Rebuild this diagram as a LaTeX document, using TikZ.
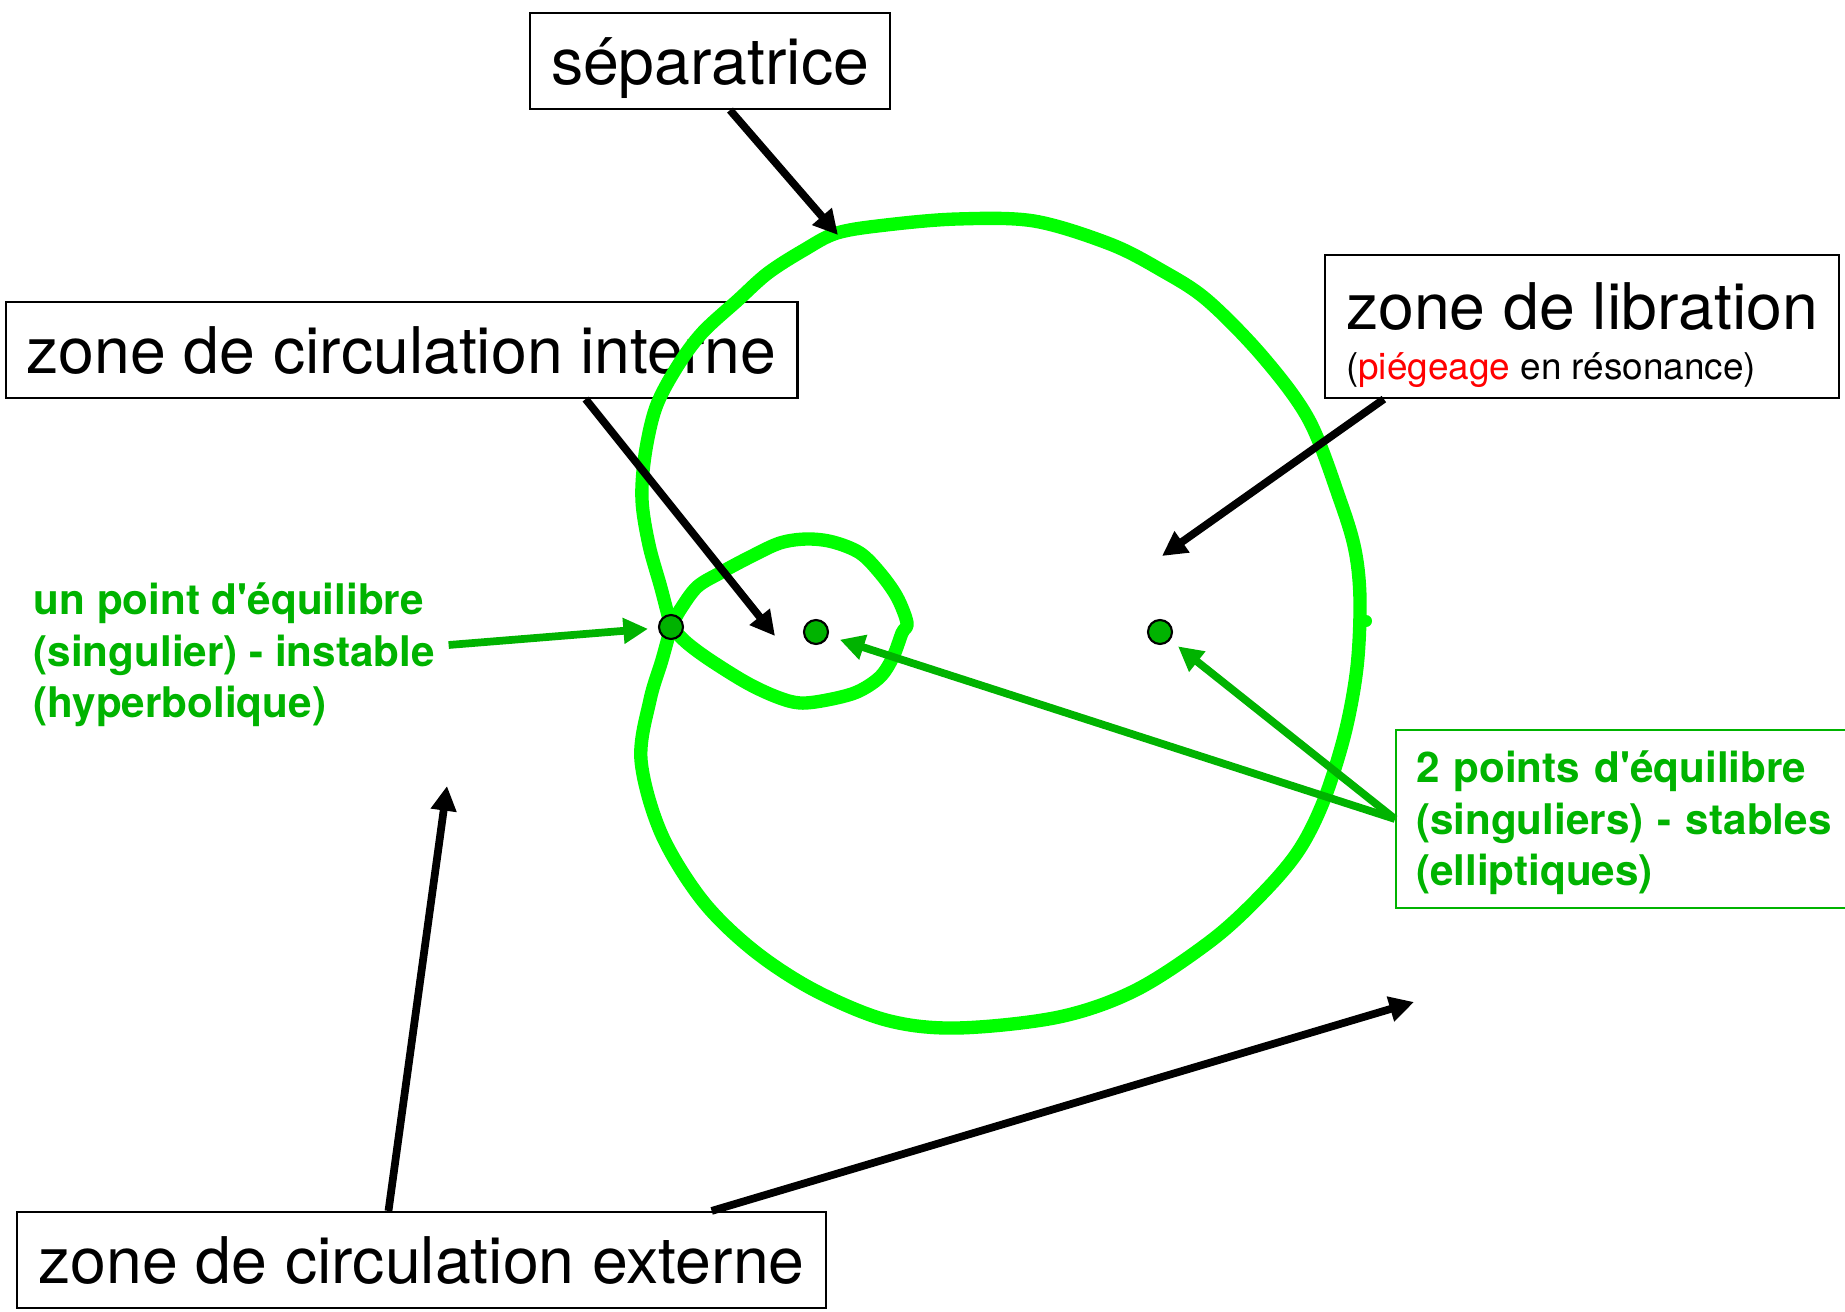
\documentclass[tikz,border=0pt]{standalone}
\usepackage{fontspec}
\setmainfont{TeX Gyre Heros}
\usetikzlibrary{arrows.meta,calc}
\definecolor{sepgreen}{HTML}{00FF00}
\definecolor{ptgreen}{HTML}{00B300}
\definecolor{trapred}{HTML}{FF0000}
\tikzset{
  zonebase/.style={
    rectangle, draw=black, line width=0.6pt,
    inner xsep=0.21cm, minimum height=0.96cm,
    font=\fontsize{18.3}{14.4}\selectfont
  },
  zonebox/.style={zonebase, text height=13.4pt, text depth=0pt},
  eqlabel/.style={
    align=left, text=ptgreen,
    font=\fontsize{12}{14.6}\selectfont\bfseries
  },
  sepcurve/.style={
    draw=sepgreen, line width=3.8pt, line join=round
  },
  arrow/.style={
    -{Triangle[length=7pt,width=7pt]},
    line width=2.2pt, draw=black
  },
  eqarrow/.style={arrow, draw=ptgreen},
  eqpoint/.style={
    circle, draw=black, line width=0.6pt, fill=ptgreen,
    minimum size=0.24cm, inner sep=0pt
  },
}

\begin{document}
\begin{tikzpicture}[x=0.01cm, y=-0.01cm]
  \useasboundingbox (0,0) rectangle (1845,1312);

  \node[zonebox] (sep) at (710,61) {séparatrice};
  \node[zonebox] (cint) at (401.5,350) {zone de circulation interne};
  \node[zonebox] (cext) at (421.5,1260) {zone de circulation externe};
  \node[zonebase, align=left, inner ysep=2pt, minimum width=5.12cm, minimum height=1.43cm] (lib) at (1582,326.5)
    {\rule{0pt}{18.4pt}zone de libration\\{\fontsize{10.5}{12}\selectfont(\textcolor{trapred}{piégeage} en résonance)\rule[-2.5pt]{0pt}{0pt}}};
  \node[eqlabel, anchor=west, inner sep=0pt] (hyplabel) at (33,651)
    {\rule{0pt}{11.7pt}un point d\textquotesingle{}équilibre\\(singulier) - instable\\(hyperbolique)\rule[-3pt]{0pt}{0pt}};
  \node[eqlabel, draw=ptgreen, line width=0.6pt, anchor=west, text width=4.3cm, inner xsep=0.2cm, minimum height=1.72cm] (stab) at (1395,819)
    {\rule{0pt}{11.7pt}2 points d\textquotesingle{}équilibre\\(singuliers) - stables\\(elliptiques)\rule[-3pt]{0pt}{0pt}};

  \draw[sepcurve] plot[smooth, tension=0.55] coordinates {(671,627) (661,588) (649,545) (642,500) (645,455) (656,407) (677,367) (702,333) (738,300) (768,273) (804,250) (837,233) (886,225) (957,219) (1034,221) (1110,244) (1161,270) (1207,300) (1263,357) (1309,420) (1340,500) (1355,550) (1360,600) (1357,667) (1345,733) (1324,800) (1299,850) (1263,893) (1212,940) (1136,990) (1059,1017) (957,1028) (886,1020) (814,990) (753,950) (702,900) (661,833) (641,760) (650,700) (662,660) (671,627)};
  \fill[sepgreen] (1366,621) circle (6);
  \draw[sepcurve] plot[smooth, tension=0.55] coordinates {(671,627) (680,610) (697,587) (720,573) (750,557) (780,543) (807,539) (833,542) (860,553) (880,573) (897,597) (907,623) (902,633) (893,657) (880,677) (857,692) (827,700) (800,703) (777,697) (747,683) (710,660) (687,643) (671,627)};

  \coordinate (septip) at (838,235);
  \coordinate (inttip) at (775,636);
  \coordinate (libtip) at (1162,556);
  \coordinate (exttipa) at (447,786);
  \coordinate (exttipb) at (1414,1002);

  \node[eqpoint] (hyp) at (671,627) {};
  \node[eqpoint] (ell1) at (816,632) {};
  \node[eqpoint] (ell2) at (1160,632) {};

  \draw[arrow] ([xshift=0.2cm]sep.south) -- (septip);
  \draw[arrow] ([xshift=1.84cm]cint.south) -- (inttip);
  \draw[arrow] ([xshift=-1.98cm]lib.south) -- (libtip);
  \draw[arrow] ([xshift=-0.33cm]cext.north) -- (exttipa);
  \draw[arrow] ([xshift=2.9cm]cext.north) -- (exttipb);
  \draw[eqarrow, shorten >=0.1cm] ([shift={(0.13cm,0.06cm)}]hyplabel.east) -- (hyp);
  \draw[eqarrow, shorten >=0.12cm] (stab.west) -- (ell1);
  \draw[eqarrow, shorten >=0.1cm] (stab.west) -- (ell2);
\end{tikzpicture}
\end{document}
